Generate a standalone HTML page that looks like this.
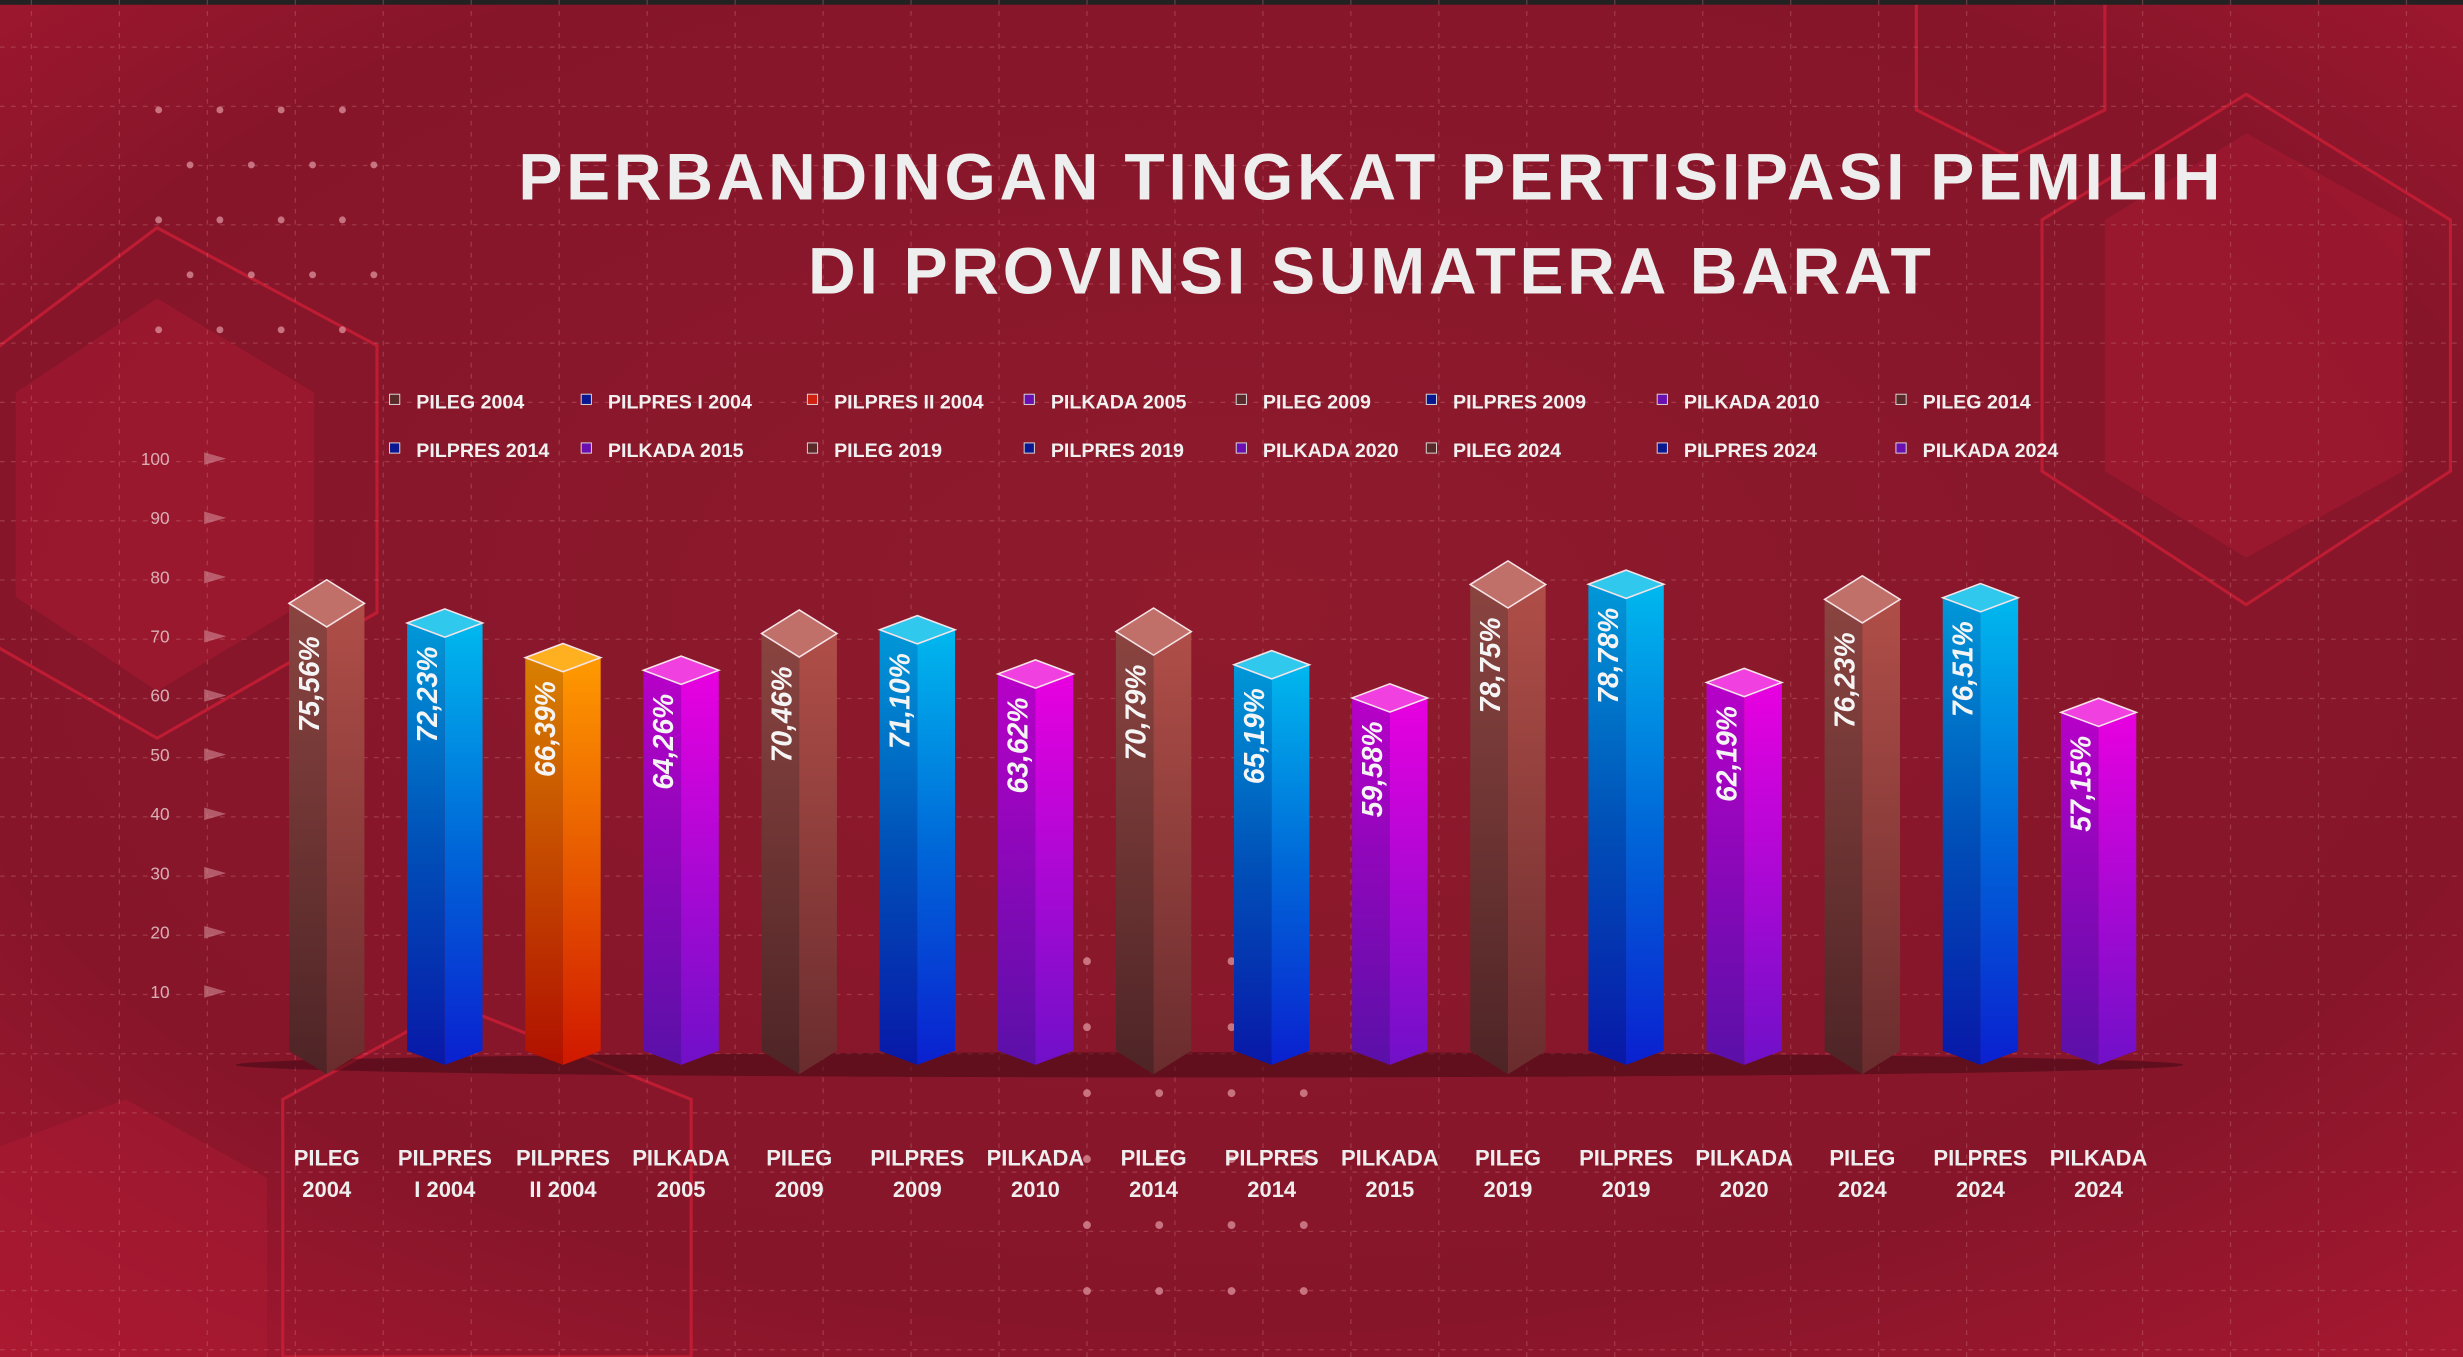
<!DOCTYPE html>
<html><head><meta charset="utf-8"><style>
html,body{margin:0;padding:0;width:2463px;height:1357px;overflow:hidden;background:#8a1628;}
svg{display:block}
text{font-family:"Liberation Sans",sans-serif;}
</style></head><body>
<svg id="chart" width="2463" height="1357" viewBox="0 0 1568 864" preserveAspectRatio="none" xmlns="http://www.w3.org/2000/svg">
<defs>
<radialGradient id="bg" cx="0.5" cy="0.45" r="0.75"><stop offset="0" stop-color="#8e1a2c"/><stop offset="0.7" stop-color="#86152a"/><stop offset="1" stop-color="#a81830"/></radialGradient>
<linearGradient id="gPilegL" x1="0" y1="0" x2="0" y2="1"><stop offset="0" stop-color="#8a4440"/><stop offset="1" stop-color="#4e2426"/></linearGradient>
<linearGradient id="gPilegR" x1="0" y1="0" x2="0" y2="1"><stop offset="0" stop-color="#b04e48"/><stop offset="1" stop-color="#6a2c2e"/></linearGradient>
<linearGradient id="gPresL" x1="0" y1="0" x2="0" y2="1"><stop offset="0" stop-color="#0098d8"/><stop offset="0.5" stop-color="#0050b8"/><stop offset="1" stop-color="#0818a8"/></linearGradient>
<linearGradient id="gPresR" x1="0" y1="0" x2="0" y2="1"><stop offset="0" stop-color="#00b8ee"/><stop offset="0.5" stop-color="#0068d8"/><stop offset="1" stop-color="#0a20d0"/></linearGradient>
<linearGradient id="gP2L" x1="0" y1="0" x2="0" y2="1"><stop offset="0" stop-color="#d88000"/><stop offset="1" stop-color="#b01000"/></linearGradient>
<linearGradient id="gP2R" x1="0" y1="0" x2="0" y2="1"><stop offset="0" stop-color="#ff9a00"/><stop offset="1" stop-color="#d01800"/></linearGradient>
<linearGradient id="gKadaL" x1="0" y1="0" x2="0" y2="1"><stop offset="0" stop-color="#b800c8"/><stop offset="1" stop-color="#5a10a8"/></linearGradient>
<linearGradient id="gKadaR" x1="0" y1="0" x2="0" y2="1"><stop offset="0" stop-color="#e800e0"/><stop offset="1" stop-color="#7010c8"/></linearGradient>
</defs>
<rect x="0" y="0" width="1568" height="864" fill="url(#bg)"/>
<g fill="none" stroke="#d42038" stroke-width="2" opacity="0.7">
<polygon points="-40,250 100,145 240,220 240,390 100,470 -40,390"/>
<polygon points="180,700 290,640 440,700 440,864 180,864"/>
<polygon points="1300,140 1430,60 1560,140 1560,300 1430,385 1300,300"/>
<polygon points="1220,0 1340,0 1340,70 1280,100 1220,70"/>
</g>
<g fill="#b01a32" opacity="0.45">
<polygon points="10,250 100,190 200,250 200,380 100,440 10,380"/>
<polygon points="1340,140 1430,85 1530,140 1530,300 1430,355 1340,300"/>
<polygon points="0,730 80,700 170,750 170,864 0,864"/>
</g>
<rect x="0" y="0" width="1568" height="3" fill="#222"/>
<g id="grid" stroke="#c8707a" stroke-width="0.8" stroke-dasharray="3,4" opacity="0.38"></g>
<g id="dots" fill="#d88a96" opacity="0.8"></g>
<text x="873" y="127" text-anchor="middle" font-size="42" font-weight="bold" fill="#eeeeee" letter-spacing="2.4">PERBANDINGAN TINGKAT PERTISIPASI PEMILIH</text>
<text x="873" y="187" text-anchor="middle" font-size="42" font-weight="bold" fill="#eeeeee" letter-spacing="2.4">DI PROVINSI SUMATERA BARAT</text>
<g id="legend"></g>
<g id="yaxis"></g>
<ellipse cx="770" cy="678" rx="620" ry="8" fill="#3a0810" opacity="0.5"/>
<g id="bars"></g>
<g id="xlabels"></g>
</svg>
<script>
const categories = ["PILEG 2004","PILPRES I 2004","PILPRES II 2004","PILKADA 2005","PILEG 2009","PILPRES 2009","PILKADA 2010","PILEG 2014","PILPRES 2014","PILKADA 2015","PILEG 2019","PILPRES 2019","PILKADA 2020","PILEG 2024","PILPRES 2024","PILKADA 2024"];
const values = [75.56,72.23,66.39,64.26,70.46,71.10,63.62,70.79,65.19,59.58,78.75,78.78,62.19,76.23,76.51,57.15];
const valueLabels = ["75,56%","72,23%","66,39%","64,26%","70,46%","71,10%","63,62%","70,79%","65,19%","59,58%","78,75%","78,78%","62,19%","76,23%","76,51%","57,15%"];
const types = ["pileg","pres","pres2","kada","pileg","pres","kada","pileg","pres","kada","pileg","pres","kada","pileg","pres","kada"];
const yTicks = [10,20,30,40,50,60,70,80,90,100];
const legendLabels = ["PILEG 2004","PILPRES I 2004","PILPRES II 2004","PILKADA 2005","PILEG 2009","PILPRES 2009","PILKADA 2010","PILEG 2014","PILPRES 2014","PILKADA 2015","PILEG 2019","PILPRES 2019","PILKADA 2020","PILEG 2024","PILPRES 2024","PILKADA 2024"];
const legendColors = ["#5a2a2a","#0a1890","#d02010","#6a10b0","#5a2a2a","#0a1890","#6a10b0","#5a2a2a","#0a1890","#6a10b0","#5a2a2a","#0a1890","#6a10b0","#5a2a2a","#0a1890","#6a10b0"];

const NS="http://www.w3.org/2000/svg";
function mk(tag,attrs,parent){const e=document.createElementNS(NS,tag);for(const k in attrs)e.setAttribute(k,attrs[k]);parent.appendChild(e);return e;}
const y = v => 669 - v*3.77;
const x = i => 208 + i*75.2;

const grid=document.getElementById('grid');
for(let gy=30; gy<864; gy+=37.7){const l=mk('line',{x1:0,x2:1568,y1:gy,y2:gy},grid);}
for(let gx=20; gx<1568; gx+=56){const l=mk('line',{x1:gx,x2:gx,y1:0,y2:864},grid);}
const dots=document.getElementById('dots');
for(let r=0;r<5;r++)for(let c=0;c<4;c++){const d=mk('circle',{cx:101+c*39+(r%2?20:0),cy:70+r*35,r:2.2},dots);}
for(let r=0;r<6;r++)for(let c=0;c<4;c++){const d=mk('circle',{cx:692+c*46,cy:612+r*42,r:2.5},dots);}

const leg=document.getElementById('legend');
const lx=[251,373,517,655,790,911,1058,1210];
legendLabels.forEach((t,i)=>{const row=Math.floor(i/8),col=i%8;const g=mk('g',{},leg);

mk('rect',{x:lx[col]-3,y:251+row*31,width:6.5,height:6.5,fill:legendColors[i],stroke:'#ddd','stroke-width':0.6},g);
const tx=mk('text',{x:lx[col]+14,y:260+row*31,'font-size':12.5,'font-weight':'bold',fill:'#f0f0f0'},g);tx.textContent=t;});

const ya=document.getElementById('yaxis');
yTicks.forEach(v=>{const t=mk('text',{x:108,y:y(v)+4,'text-anchor':'end','font-size':11,fill:'#e6c8cc',opacity:0.85},ya);t.textContent=v;

const p=mk('polygon',{points:`130,${y(v)-4} 144,${y(v)} 130,${y(v)+4}`,fill:'#d08a94',opacity:0.6},ya);
});

const bars=document.getElementById('bars');
const fills={pileg:['url(#gPilegL)','url(#gPilegR)','#c07068'],pres:['url(#gPresL)','url(#gPresR)','#30c8ec'],pres2:['url(#gP2L)','url(#gP2R)','#ffb020'],kada:['url(#gKadaL)','url(#gKadaR)','#f040e0']};
values.forEach((v,i)=>{const cx=x(i),w=24,h=types[i]==='pileg'?15:9,top=y(v),bot=y(0);
const g=mk('g',{},bars);
const f=fills[types[i]];
mk('polygon',{points:`${cx-w},${top} ${cx},${top+h} ${cx},${bot+h} ${cx-w},${bot}`,fill:f[0]},g);
mk('polygon',{points:`${cx},${top+h} ${cx+w},${top} ${cx+w},${bot} ${cx},${bot+h}`,fill:f[1]},g);
mk('polygon',{points:`${cx-w},${top} ${cx},${top-h} ${cx+w},${top} ${cx},${top+h}`,fill:f[2],stroke:'#f4e4e8','stroke-width':1},g);
const tx=mk('text',{x:0,y:0,'font-size':18,'font-weight':'bold','font-style':'italic',fill:'#f4f4f4','text-anchor':'end',transform:`translate(${cx-5},${top+h+6}) rotate(-90)`},g);tx.textContent=valueLabels[i];
});

const xl=document.getElementById('xlabels');
categories.forEach((c,i)=>{const parts=c.split(' ');
let l1=parts.slice(0,-1).join(' '),l2=parts[parts.length-1]; if(parts.length===3){l1=parts[0];l2=parts[1]+' '+parts[2];}
const g=mk('g',{},xl);
const t1=mk('text',{x:x(i),y:742,'text-anchor':'middle','font-size':14,'font-weight':'bold',fill:'#eeeeee'},g);t1.textContent=l1;
const t2=mk('text',{x:x(i),y:762,'text-anchor':'middle','font-size':14,'font-weight':'bold',fill:'#eeeeee'},g);t2.textContent=l2;});
</script>
</body></html>
